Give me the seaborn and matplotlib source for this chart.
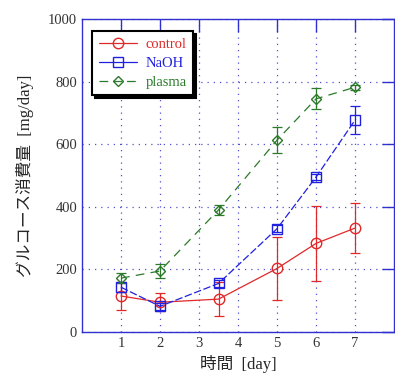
import seaborn as sns
import pandas as pd
import matplotlib.pyplot as plt

days = [1, 2, 3.5, 5, 6, 7]
control = [115, 95, 105, 203, 283, 332]
control_err = [45, 28, 55, 100, 120, 80]
naoh = [143, 82, 155, 330, 495, 677]
naoh_err = [15, 12, 12, 12, 10, 45]
plasma = [172, 195, 390, 613, 745, 782]
plasma_err = [15, 22, 15, 42, 33, 8]
xticks = [1, 2, 3, 4, 5, 6, 7]
yticks = [0, 200, 400, 600, 800, 1000]

names = ["control", "NaOH", "plasma"]
colors = {"control": "#e02828", "NaOH": "#2020e0", "plasma": "#2a7a2a"}
markers = {"control": "o", "NaOH": "s", "plasma": "D"}
dashes = {"control": "", "NaOH": (6, 2), "plasma": (7, 5)}

df = pd.DataFrame({
    "day": days * 3,
    "value": control + naoh + plasma,
    "err": control_err + naoh_err + plasma_err,
    "group": [n for n in names for _ in days],
})

sns.set_style("white")
plt.rcParams['font.family'] = ['Liberation Serif', 'Noto Sans CJK JP']

fig = plt.figure(figsize=(3.95, 3.75), dpi=100)
ax = fig.add_axes([0.2076, 0.1147, 0.79, 0.8346])

sns.lineplot(data=df, x="day", y="value", hue="group", style="group",
             palette=colors, markers=markers, dashes=dashes, ax=ax,
             markersize=7.5, linewidth=0.9, legend=False, zorder=3)
for line, n in zip(list(ax.lines)[:3], names):
    line.set_markerfacecolor("none")
    line.set_markeredgecolor(colors[n])
    line.set_markeredgewidth(1.0)
    if markers[n] == "D":
        line.set_markersize(5.5)

for n in names:
    d = df[df.group == n]
    ax.errorbar(d.day, d.value, yerr=d.err, fmt="none", ecolor=colors[n],
                elinewidth=0.9, capsize=3.5, capthick=0.9, zorder=2)

ax.set_xlim(0, 8)
ax.set_ylim(0, 1000)
ax.set_xticks(xticks)
ax.set_yticks(yticks)
ax.grid(True, linestyle=(0, (1, 4)), color="#5050d0", linewidth=0.9)
ax.tick_params(direction="in", length=9, width=1, color="#3030d0",
               top=True, right=True, labelsize=10.5, labelcolor="#333333")
for s in ax.spines.values():
    s.set_color("#3030d0")
    s.set_linewidth(1.0)

ax.set_xlabel("時間  [day]", fontsize=12, labelpad=4)
ax.set_ylabel("グルコース消費量  [mg/day]", fontsize=12, labelpad=10)

handles = [plt.Line2D([], [], color=colors[n], marker=markers[n],
                      markerfacecolor="none", markersize=7.5 if n != "plasma" else 5.5,
                      linestyle="-" if n != "plasma" else (0, (7, 4)), linewidth=0.9)
           for n in names]
leg = ax.legend(handles, names, loc="upper left", bbox_to_anchor=(0.01, 0.985),
                fontsize=10.5, frameon=True, fancybox=False, handlelength=2.6,
                borderpad=0.45, labelspacing=0.4, handletextpad=0.6,
                shadow={"color": "black", "alpha": 1, "ox": 2, "oy": -2})
leg.get_frame().set_edgecolor("black")
leg.get_frame().set_linewidth(1.5)
for t, n in zip(leg.get_texts(), names):
    t.set_color(colors[n])

fig.savefig("out.png", dpi=100)
